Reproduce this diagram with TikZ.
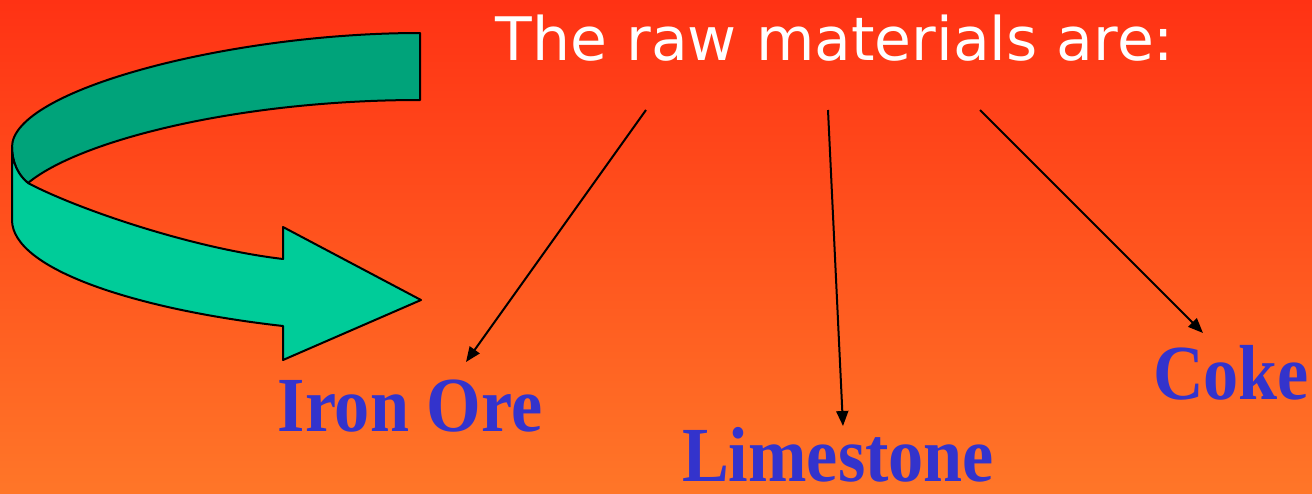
\documentclass[tikz,border=0pt]{standalone}
\usepackage{fontspec}
\usetikzlibrary{arrows.meta}
\newfontfamily\titlefont{DejaVu Sans}
\newfontfamily\labelfont{Liberation Serif}
\definecolor{bgtop}{RGB}{255,50,20}
\definecolor{bgbot}{RGB}{255,118,40}
\definecolor{backband}{RGB}{0,163,122}
\definecolor{frontband}{RGB}{0,204,153}
\definecolor{labelblue}{RGB}{51,51,204}
\tikzset{
  titletext/.style={text=white, inner sep=0pt, font=\titlefont\fontsize{60}{60}\selectfont},
  labeltext/.style={text=labelblue, inner sep=0pt, font=\labelfont\bfseries\fontsize{78}{78}\selectfont, xscale=0.9},
  pointer/.style={draw=black, line width=2pt, -{Triangle[length=15pt,width=12pt]}},
  bandline/.style={draw=black, line width=2pt, line join=round}
}
\begin{document}
\begin{tikzpicture}[x=1pt,y=-1pt]
\useasboundingbox (0,0) rectangle (1312,493);
\shade[top color=bgtop, bottom color=bgbot] (0,0) rectangle (1312,493);
% curved arrow: back band
\path[bandline, fill=backband] (420,33) .. controls (230,33) and (12,90) .. (12,147)
  .. controls (12,162) and (18,175) .. (28,183)
  .. controls (80,140) and (240,100) .. (420,100) -- cycle;
% front band with head
\path[bandline, fill=frontband] (12,147) -- (12,220)
  .. controls (12,270) and (140,310) .. (283,326)
  -- (283,360) -- (421,300) -- (283,227) -- (283,259)
  .. controls (190,248) and (75,208) .. (28,183)
  .. controls (18,175) and (12,162) .. (12,147) -- cycle;
% texts
\node[titletext, anchor=base] (title) at (835,60) {The raw materials are:};
\node[labeltext, anchor=base] (iron) at (410,431) {Iron Ore};
\node[labeltext, anchor=base] (lime) at (838,481) {Limestone};
\node[labeltext, anchor=base] (coke) at (1231,399) {Coke};
% connectors
\coordinate (s1) at (646,110);
\coordinate (s2) at (828,110);
\coordinate (s3) at (980,110);
\coordinate (t1) at (466,362);
\coordinate (t2) at (843,426);
\coordinate (t3) at (1203,333);
\draw[pointer] (s1) -- (t1);
\draw[pointer] (s2) -- (t2);
\draw[pointer] (s3) -- (t3);
\end{tikzpicture}
\end{document}
